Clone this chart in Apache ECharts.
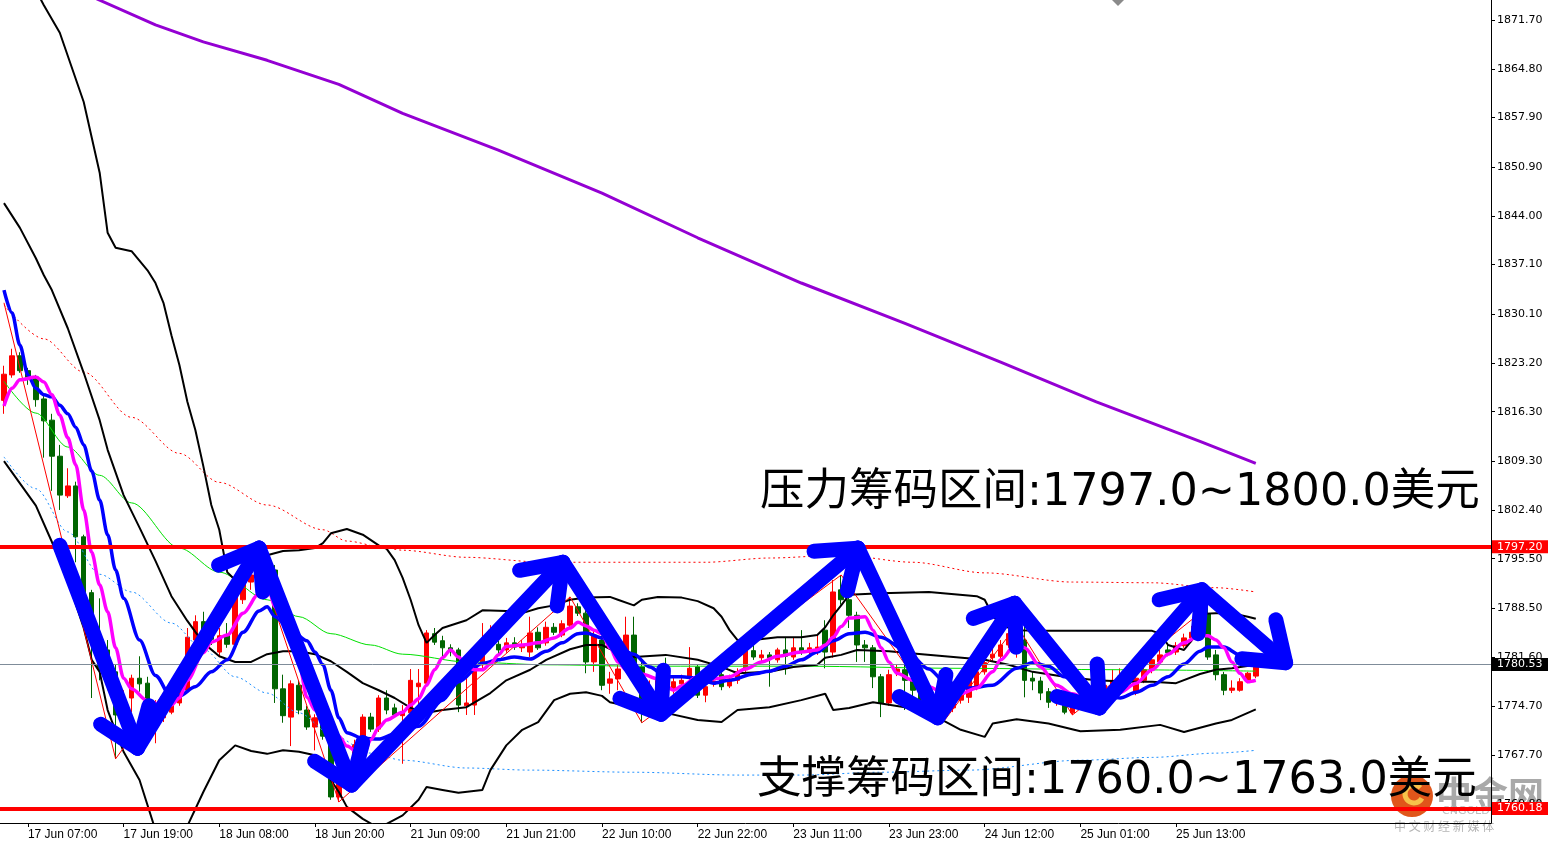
<!DOCTYPE html>
<html>
<head>
<meta charset="utf-8">
<title>XAUUSD H1</title>
<script src="https://cdn.jsdelivr.net/npm/echarts@6.0.0/dist/echarts.min.js"></script>
<style>
html,body{margin:0;padding:0;background:#fff;overflow:hidden;}
#chart{width:1548px;height:843px;}
</style>
</head>
<body>
<div id="chart"></div>
<script>
// ---------- axis scaffolding ----------
const barCount = 187;
const xTickLabels = ['17 Jun 07:00','17 Jun 19:00','18 Jun 08:00','18 Jun 20:00','21 Jun 09:00','21 Jun 21:00',
  '22 Jun 10:00','22 Jun 22:00','23 Jun 11:00','23 Jun 23:00','24 Jun 12:00','25 Jun 01:00','25 Jun 13:00'];
const xTickBars = [3,15,27,39,51,63,75,87,99,111,123,135,147];
const yTickLabels = [1871.70,1864.80,1857.90,1850.90,1844.00,1837.10,1830.10,1823.20,1816.30,1809.30,
  1802.40,1795.50,1788.50,1781.60,1774.70,1767.70,1760.80];
const yMin = 1758.12, yMax = 1874.53;

// ---------- levels ----------
const resistanceLevel = 1797.20;
const supportLevel = 1760.18;
const lastPrice = 1780.53;

// ---------- candles [open, close, low, high] ----------
const candles = [
[1817.9,1821.6,1816.0,1822.8],[1821.5,1824.2,1821.1,1825.2],[1824.2,1822.1,1821.8,1824.7],[1822.1,1821.1,1820.1,1822.5],
[1821.2,1818.0,1817.0,1821.5],[1818.1,1815.0,1809.8,1818.5],[1815.1,1810.0,1805.1,1816.0],[1810.0,1804.5,1802.4,1811.6],
[1804.4,1805.8,1804.1,1808.3],[1805.8,1798.6,1795.0,1806.4],[1798.6,1790.7,1789.7,1798.9],[1790.7,1784.0,1775.8,1791.1],
[1784.0,1780.0,1778.3,1789.9],[1782.6,1779.5,1776.9,1784.0],[1779.5,1773.4,1767.2,1780.5],[1773.3,1775.5,1769.9,1776.9],
[1775.8,1778.6,1773.8,1779.1],[1778.6,1777.8,1776.7,1781.7],[1777.9,1772.4,1771.8,1778.8],[1772.4,1774.7,1769.4,1775.5],
[1773.0,1774.0,1772.4,1774.8],[1773.8,1775.5,1773.5,1775.9],[1775.1,1776.9,1774.7,1777.5],[1776.9,1784.4,1776.7,1785.7],
[1784.0,1786.6,1783.3,1787.5],[1786.6,1784.7,1784.0,1788.0],[1785.1,1784.1,1783.3,1786.0],[1782.3,1784.6,1781.6,1785.7],
[1784.7,1783.4,1782.9,1786.4],[1783.4,1790.5,1783.2,1791.1],[1789.7,1792.2,1789.1,1793.2],[1792.2,1793.2,1791.1,1794.2],
[1794.2,1791.6,1791.1,1795.0],[1791.6,1793.9,1791.1,1794.9],[1793.9,1777.1,1775.1,1794.6],[1777.1,1773.3,1772.3,1779.1],
[1773.1,1777.8,1769.0,1778.3],[1777.6,1774.1,1773.5,1778.3],[1774.1,1771.7,1771.3,1774.7],[1771.7,1773.0,1768.4,1773.5],
[1772.7,1770.4,1769.9,1773.3],[1770.4,1761.8,1761.4,1770.9],[1761.8,1764.1,1761.1,1764.5],[1764.1,1767.0,1763.5,1767.7],
[1767.0,1769.2,1766.3,1769.9],[1769.2,1773.1,1768.7,1773.5],[1773.1,1771.4,1771.0,1773.7],[1771.4,1775.8,1771.0,1776.2],
[1775.8,1774.1,1773.5,1776.9],[1774.4,1773.4,1773.0,1775.0],[1773.3,1773.8,1766.5,1774.8],[1773.7,1778.3,1773.0,1779.9],
[1777.4,1777.9,1773.7,1779.9],[1777.9,1785.0,1777.6,1785.4],[1784.9,1783.7,1783.3,1785.7],[1783.9,1782.9,1781.6,1784.6],
[1782.9,1782.5,1781.7,1783.4],[1782.6,1774.8,1773.8,1782.9],[1774.7,1775.1,1773.4,1778.8],[1774.8,1780.5,1773.4,1780.9],
[1780.5,1784.0,1780.0,1786.4],[1783.7,1785.4,1782.9,1786.1],[1783.4,1782.6,1781.9,1783.9],[1782.6,1783.6,1782.2,1784.3],
[1783.6,1783.0,1782.6,1784.4],[1782.9,1783.3,1782.3,1784.0],[1782.3,1785.0,1781.6,1787.3],[1785.1,1782.9,1782.6,1785.8],
[1783.6,1785.8,1783.2,1786.6],[1785.8,1785.1,1784.7,1786.4],[1784.7,1786.3,1784.4,1786.8],[1786.1,1788.8,1785.8,1790.1],
[1788.7,1787.8,1787.4,1789.2],[1787.8,1780.9,1779.3,1788.3],[1780.9,1784.7,1779.5,1785.4],[1784.0,1777.6,1776.9,1784.6],
[1777.9,1778.5,1776.4,1779.5],[1778.5,1779.9,1776.9,1780.6],[1782.2,1784.7,1781.7,1787.3],[1784.7,1780.2,1779.1,1787.3],
[1780.2,1775.5,1772.3,1781.2],[1775.5,1776.9,1774.1,1778.3],[1776.9,1778.3,1776.2,1779.5],[1779.1,1776.5,1775.9,1781.5],
[1776.9,1778.1,1776.4,1778.9],[1777.8,1778.3,1777.2,1779.1],[1778.8,1780.0,1778.3,1783.0],[1780.2,1776.2,1775.8,1780.6],
[1776.2,1777.4,1775.2,1777.9],[1777.9,1778.2,1777.4,1778.9],[1779.1,1777.4,1776.9,1779.6],[1777.5,1778.5,1777.2,1779.1],
[1778.3,1779.5,1777.8,1780.0],[1779.8,1782.5,1779.5,1783.0],[1782.5,1781.6,1781.2,1783.3],[1781.5,1781.9,1780.9,1782.6],
[1781.9,1781.5,1777.4,1782.3],[1781.2,1782.6,1780.8,1782.9],[1782.6,1781.7,1779.1,1784.3],[1781.6,1782.9,1781.2,1784.4],
[1782.9,1782.3,1781.9,1785.4],[1782.3,1782.9,1781.9,1783.6],[1782.3,1783.0,1781.9,1784.7],[1785.4,1782.3,1780.0,1786.8],
[1782.3,1790.8,1781.5,1792.5],[1791.1,1789.7,1789.0,1793.2],[1789.7,1787.5,1785.7,1790.4],[1787.5,1783.3,1780.9,1788.0],
[1783.3,1782.9,1780.9,1784.0],[1782.9,1778.8,1777.2,1783.3],[1778.8,1775.1,1773.1,1779.2],[1775.1,1779.1,1774.7,1779.8],
[1779.5,1779.9,1778.9,1780.5],[1779.8,1778.3,1774.1,1780.5],[1778.3,1776.9,1775.5,1778.9],[1776.9,1775.5,1774.8,1777.6],
[1775.5,1774.4,1773.8,1776.2],[1774.4,1773.8,1773.3,1775.5],[1773.8,1774.8,1772.7,1775.5],[1774.4,1775.5,1773.8,1776.2],
[1775.5,1776.7,1775.0,1777.2],[1775.9,1778.3,1775.1,1778.8],[1777.4,1779.5,1776.9,1780.0],[1779.5,1780.8,1779.1,1781.2],
[1781.5,1782.0,1780.9,1782.9],[1781.7,1783.3,1781.2,1784.0],[1783.3,1784.9,1782.9,1785.4],[1785.1,1785.7,1781.5,1786.1],
[1784.0,1778.3,1775.9,1786.0],[1778.6,1778.2,1776.9,1779.5],[1778.2,1776.5,1775.5,1778.8],[1776.7,1775.2,1774.4,1777.2],
[1775.2,1776.4,1774.7,1776.9],[1775.9,1773.8,1773.5,1776.5],[1773.7,1774.8,1773.4,1775.5],[1774.8,1775.8,1774.1,1776.4],
[1775.8,1775.5,1774.7,1776.7],[1775.5,1776.7,1775.0,1777.5],[1776.2,1777.6,1775.8,1778.3],[1777.4,1778.3,1776.9,1779.8],
[1778.3,1778.9,1777.6,1780.0],[1778.6,1777.8,1777.2,1779.5],[1776.7,1778.6,1776.2,1779.1],[1778.3,1779.8,1777.9,1780.3],
[1779.8,1781.2,1779.3,1781.7],[1780.9,1781.9,1780.5,1782.6],[1782.6,1782.2,1781.7,1783.3],[1782.3,1783.2,1781.9,1783.7],
[1783.2,1784.3,1782.9,1784.9],[1784.3,1785.1,1783.7,1786.0],[1785.1,1786.8,1784.7,1787.7],[1787.7,1781.6,1781.2,1788.7],
[1781.9,1779.1,1778.3,1782.6],[1779.1,1776.9,1776.2,1779.5],[1776.9,1777.2,1776.5,1778.3],[1776.9,1778.1,1776.7,1778.6],
[1778.3,1779.3,1777.9,1779.5],[1778.9,1780.5,1778.6,1780.9]
];

// ---------- indicator readings [bar, price] ----------
const maPurple = [[0,1880.9],[12,1874.5],[19,1871.0],[25,1868.6],[33,1866.0],[42,1862.6],[50,1858.5],[62,1853.3],
  [75,1847.2],[87,1840.9],[100,1834.5],[113,1828.8],[125,1823.3],[137,1817.7],[150,1812.1],[157,1809.0]];
const envUpperRed = [[0,1831.4],[5,1826.6],[10,1821.9],[16,1815.5],[22,1810.4],[27,1806.3],[33,1803.1],[40,1799.6],
  [43,1798.0],[48,1797.0],[50,1796.7],[58,1795.7],[68,1795.0],[75,1795.0],[88,1795.0],[96,1795.6],[105,1796.0],
  [114,1795.0],[123,1793.5],[134,1792.2],[144,1792.1],[152,1791.4],[157,1790.8]];
const envLowerBlue = [[0,1809.9],[4,1805.4],[8,1799.3],[12,1793.3],[16,1790.8],[21,1786.4],[25,1782.7],[29,1778.8],
  [33,1776.5],[37,1773.7],[41,1770.7],[46,1768.0],[50,1767.0],[58,1765.9],[66,1765.6],[79,1765.3],[92,1764.9],
  [100,1764.9],[110,1765.3],[121,1765.6],[135,1767.0],[144,1767.4],[152,1768.0],[157,1768.4]];
const maGreen = [[0,1820.6],[4,1816.1],[8,1811.3],[12,1807.3],[16,1803.4],[22,1797.0],[27,1793.6],[33,1789.7],
  [37,1787.3],[41,1784.9],[46,1783.3],[50,1782.0],[58,1780.9],[68,1780.5],[80,1780.3],[100,1780.3],[120,1780.0],
  [140,1779.8],[157,1779.6]];
const bbUpper = [[4,1875.9],[5,1873.8],[7,1869.9],[10,1860.1],[12,1850.1],[13,1841.6],[14,1839.5],[16,1839.0],
  [18,1836.3],[19,1834.5],[20,1831.7],[21,1827.1],[22,1822.9],[23,1817.7],[24,1813.7],[25,1808.6],[26,1803.1],
  [27,1799.6],[28,1793.6],[29,1792.5],[31,1794.6],[33,1796.0],[35,1796.6],[37,1796.7],[39,1797.0],[40,1797.7],
  [41,1799.1],[43,1799.7],[45,1798.9],[47,1797.4],[48,1796.9],[49,1795.3],[50,1792.8],[51,1789.7],[52,1786.1],
  [53,1783.6],[54,1784.7],[55,1785.7],[58,1786.8],[60,1788.2],[63,1788.1],[65,1787.8],[67,1788.5],[69,1788.9],
  [71,1789.7],[73,1790.0],[76,1790.1],[77,1789.7],[79,1788.9],[80,1789.7],[82,1790.1],[85,1790.0],[87,1789.5],
  [89,1788.5],[90,1787.3],[91,1785.4],[92,1784.0],[94,1784.0],[97,1784.4],[100,1784.4],[102,1784.7],[103,1785.8],
  [104,1787.5],[105,1788.9],[106,1790.4],[110,1790.6],[116,1790.8],[122,1790.2],[123,1789.7],[124,1787.5],
  [125,1786.1],[127,1785.4],[130,1785.3],[144,1785.3],[145,1784.9],[146,1783.3],[148,1782.6],[149,1784.0],
  [150,1787.7],[152,1787.8],[154,1787.8],[156,1787.3],[157,1787.0]];
const bbMiddle = [[0,1845.8],[2,1842.3],[4,1838.0],[5,1835.6],[6,1833.5],[8,1828.1],[10,1821.8],[12,1815.1],
  [13,1810.9],[15,1804.5],[17,1799.9],[19,1795.2],[21,1790.2],[23,1786.7],[25,1783.6],[27,1781.7],[29,1780.9],
  [31,1780.9],[33,1782.0],[35,1782.4],[37,1782.4],[39,1782.0],[41,1781.0],[43,1779.5],[45,1777.9],[47,1776.9],
  [49,1775.8],[51,1774.4],[53,1773.7],[55,1774.1],[58,1774.5],[61,1776.5],[63,1778.3],[66,1779.8],[68,1781.2],
  [71,1782.7],[73,1783.3],[75,1783.3],[77,1782.2],[79,1781.6],[83,1781.9],[87,1781.2],[90,1780.2],[92,1779.3],
  [96,1779.5],[99,1780.2],[102,1780.5],[103,1781.5],[105,1781.9],[107,1782.6],[111,1782.4],[113,1782.2],
  [123,1781.2],[126,1780.5],[129,1779.5],[133,1778.8],[137,1778.3],[141,1778.1],[144,1778.1],[147,1777.9],
  [150,1779.2],[152,1779.8],[154,1780.0],[157,1780.5]];
const bbLower = [[0,1809.3],[4,1803.0],[6,1797.9],[8,1792.5],[10,1785.7],[11,1781.2],[12,1779.5],[13,1774.1],
  [15,1768.2],[17,1764.2],[19,1757.1],[21,1752.9],[23,1757.7],[25,1762.5],[27,1767.0],[29,1769.1],[31,1768.3],
  [33,1767.9],[35,1768.4],[37,1768.2],[39,1767.7],[40,1766.3],[41,1764.2],[42,1762.5],[43,1760.4],[45,1758.7],
  [47,1757.4],[50,1759.2],[52,1761.4],[53,1763.2],[55,1762.8],[57,1762.4],[60,1762.8],[61,1765.6],[63,1769.1],
  [65,1771.3],[67,1772.4],[69,1775.5],[71,1776.4],[73,1776.6],[75,1776.1],[76,1775.2],[79,1774.5],[83,1773.7],
  [87,1772.7],[90,1772.4],[92,1774.1],[96,1774.5],[100,1775.5],[103,1776.4],[104,1774.1],[106,1774.4],
  [109,1775.2],[113,1774.5],[117,1773.1],[120,1771.3],[123,1770.3],[124,1772.2],[127,1772.8],[131,1772.2],
  [135,1771.1],[140,1771.3],[145,1772.0],[148,1771.0],[152,1772.2],[154,1772.7],[157,1774.2]];
const maBlue = [[0,1833.5],[1,1830.3],[2,1825.7],[3,1821.5],[4,1819.6],[5,1818.7],[6,1818.4],[7,1817.2],[8,1816.0],
  [9,1814.1],[10,1811.6],[11,1807.9],[12,1803.8],[13,1798.9],[14,1793.9],[15,1789.9],[17,1784.0],[19,1779.0],
  [21,1775.9],[22,1776.1],[24,1777.4],[26,1779.5],[28,1781.2],[30,1785.1],[32,1788.1],[33,1788.7],[34,1787.3],
  [36,1785.4],[38,1783.9],[39,1782.3],[40,1780.5],[41,1776.9],[42,1773.0],[43,1770.9],[45,1770.1],[47,1770.0],
  [49,1770.7],[52,1771.8],[55,1775.5],[57,1778.1],[60,1780.7],[62,1781.2],[64,1781.6],[66,1781.3],[68,1782.4],
  [70,1783.6],[72,1784.9],[73,1785.0],[75,1784.3],[77,1782.9],[79,1782.0],[81,1780.2],[83,1778.8],[85,1778.8],
  [87,1778.6],[89,1777.9],[91,1778.3],[94,1779.2],[96,1779.6],[98,1780.3],[100,1781.2],[102,1782.3],[104,1783.9],
  [106,1784.9],[108,1785.1],[110,1784.4],[113,1782.6],[116,1779.9],[118,1778.1],[121,1777.2],[124,1777.6],
  [127,1780.0],[129,1780.8],[131,1780.3],[133,1778.8],[135,1777.2],[137,1776.4],[140,1775.8],[142,1776.6],
  [144,1777.6],[146,1778.8],[148,1780.6],[150,1782.4],[151,1783.0],[153,1783.0],[155,1781.9],[157,1781.3]];
const maMagenta = [[0,1817.1],[1,1819.6],[2,1820.8],[4,1821.2],[5,1820.5],[6,1818.7],[7,1815.8],[8,1812.6],
  [9,1808.8],[10,1802.4],[11,1796.4],[12,1791.8],[13,1788.0],[14,1782.9],[15,1778.6],[16,1777.1],[18,1775.4],
  [20,1774.7],[21,1774.8],[22,1775.8],[23,1778.3],[25,1782.2],[26,1783.7],[28,1784.7],[30,1787.8],[32,1790.6],
  [33,1791.9],[34,1788.7],[35,1786.5],[36,1783.7],[37,1780.7],[38,1775.9],[39,1774.1],[40,1773.0],[42,1770.4],
  [43,1769.0],[45,1767.5],[46,1769.9],[47,1771.6],[48,1772.7],[50,1773.8],[51,1774.8],[52,1775.7],[53,1777.6],
  [54,1779.8],[55,1781.5],[56,1782.6],[57,1781.6],[58,1780.3],[59,1779.8],[60,1779.8],[61,1780.6],[62,1781.9],
  [63,1783.1],[65,1783.3],[67,1783.6],[69,1784.3],[71,1785.7],[72,1786.5],[73,1786.0],[74,1785.4],[75,1784.9],
  [76,1782.9],[77,1780.9],[78,1779.8],[80,1779.2],[82,1778.5],[84,1776.9],[85,1777.5],[87,1778.8],[89,1778.5],
  [91,1778.8],[93,1779.9],[95,1780.9],[97,1781.7],[100,1782.3],[102,1782.6],[103,1783.3],[104,1784.4],[105,1785.9],
  [106,1787.1],[108,1787.3],[109,1785.4],[110,1782.9],[111,1780.9],[112,1779.3],[114,1778.3],[116,1777.4],
  [118,1776.4],[120,1776.4],[122,1777.2],[124,1779.5],[125,1781.2],[127,1783.6],[128,1782.9],[130,1780.2],
  [132,1777.6],[134,1776.4],[136,1775.5],[138,1775.9],[140,1776.6],[142,1777.9],[144,1779.8],[146,1782.0],
  [148,1783.6],[150,1784.7],[151,1784.6],[152,1784.0],[153,1782.9],[154,1780.9],[155,1779.3],[156,1778.1],[157,1778.3]];
const zigzag = [[0,1831.7],[14,1767.2],[32,1795.0],[42,1761.1],[71,1790.1],[80,1772.3],[105,1793.2],[118,1772.7],
  [127,1786.1],[134,1773.4],[151,1788.7]];

// ---------- hand-drawn arrow path [bar, price] ----------
const arrowPath = [[7,1797.4],[16.75,1768.7],[32,1797.0],[43.6,1763.5],[70.1,1795.0],[82.4,1773.5],
  [107.1,1797.0],[117.1,1773.0],[126.75,1789.2],[137.4,1774.4],[150.25,1791.1],[160.75,1780.8]];

// ---------- annotations ----------
const resistanceText = '压力筹码区间:1797.0~1800.0美元';
const supportText = '支撑筹码区间:1760.0~1763.0美元';

// ---------- build ----------
const categories = Array.from({length: barCount}, (_, k) => 'b' + k);
const labelMap = {};
xTickBars.forEach((b, i) => { labelMap[b] = xTickLabels[i]; });

const chart = echarts.init(document.getElementById('chart'), null, {renderer: 'canvas'});

function lineSeries(name, data, color, width, type, smooth, z) {
  return {
    name, type: 'line', data, showSymbol: false, symbol: 'none', smooth: smooth, smoothMonotone: 'x',
    lineStyle: {color, width, type}, z: z, silent: true, animation: false
  };
}

const levelLabel = (bg) => ({
  show: true, position: 'end', distance: 1, formatter: (p) => p.value.toFixed(2),
  color: '#fff', backgroundColor: bg, padding: [1, 6, 1, 5], fontSize: 11, fontFamily: 'DejaVu Sans'
});

const option = {
  animation: false,
  backgroundColor: '#ffffff',
  grid: {left: -3, right: 57, top: 0, bottom: 20, containLabel: false},
  xAxis: {
    type: 'category', data: categories, boundaryGap: true,
    axisLine: {show: true, lineStyle: {color: '#000', width: 1}},
    axisTick: {show: true, alignWithLabel: true, length: 4, interval: (i) => labelMap[i] !== undefined, lineStyle: {color: '#000'}},
    axisLabel: {interval: (i) => labelMap[i] !== undefined, formatter: (v, i) => labelMap[i] || '',
      align: 'left', margin: 6, color: '#000', fontSize: 12, fontFamily: 'Liberation Sans'},
    splitLine: {show: false}
  },
  yAxis: {
    type: 'value', position: 'right', min: yMin, max: yMax,
    axisLine: {show: true, lineStyle: {color: '#000', width: 1}},
    axisTick: {show: true, length: 4, customValues: yTickLabels, lineStyle: {color: '#000'}},
    axisLabel: {customValues: yTickLabels, formatter: (v) => v.toFixed(2), color: '#000', fontSize: 11,
      fontFamily: 'DejaVu Sans', margin: 6},
    splitLine: {show: false}
  },
  series: [
    {
      name: 'XAUUSD', type: 'candlestick', data: candles, barWidth: 5, z: 1, silent: true,
      itemStyle: {color: '#ff0000', color0: '#006400', borderColor: '#ff0000', borderColor0: '#006400', borderWidth: 1}
    },
    lineSeries('MA long', maPurple, '#9400d3', 3, 'solid', false, 2),
    lineSeries('Env upper', envUpperRed, '#ff0000', 1, [2, 3], 0.3, 2),
    lineSeries('Env lower', envLowerBlue, '#1e90ff', 1, [2, 3], 0.3, 2),
    lineSeries('MA green', maGreen, '#00e000', 1, 'solid', 0.3, 2),
    lineSeries('BB upper', bbUpper, '#000000', 2, 'solid', false, 2),
    lineSeries('BB middle', bbMiddle, '#000000', 2, 'solid', false, 2),
    lineSeries('BB lower', bbLower, '#000000', 2, 'solid', false, 2),
    lineSeries('ZigZag', zigzag, '#ff0000', 1, 'solid', false, 2),
    lineSeries('MA blue', maBlue, '#0000ff', 3.5, 'solid', 0.3, 3),
    lineSeries('MA magenta', maMagenta, '#ff00ff', 3.5, 'solid', 0.3, 3),
    {
      name: 'levels', type: 'line', data: [], z: 4, silent: true,
      markLine: {
        silent: true, symbol: ['none', 'none'], animation: false,
        data: [
          {yAxis: lastPrice, lineStyle: {color: '#7f8c99', width: 1, type: 'solid'}, label: levelLabel('#000000')},
          {yAxis: resistanceLevel, lineStyle: {color: '#ff0000', width: 4, type: 'solid'}, label: levelLabel('#ff0000')},
          {yAxis: supportLevel, lineStyle: {color: '#ff0000', width: 4, type: 'solid'}, label: levelLabel('#ff0000')}
        ]
      }
    },
    {
      name: 'arrows', type: 'custom', z: 6, silent: true,
      data: arrowPath.slice(1).map((p) => [Math.round(p[0]), p[1]]),
      encode: {x: 0, y: 1},
      renderItem: function (params, api) {
        const at = (pt) => {
          const k0 = Math.floor(pt[0]), f = pt[0] - k0;
          const a = api.coord([k0, pt[1]]);
          if (!f) return a;
          const b = api.coord([k0 + 1, pt[1]]);
          return [a[0] + (b[0] - a[0]) * f, a[1]];
        };
        const i = params.dataIndex;
        const A = at(arrowPath[i]), B = at(arrowPath[i + 1]);
        const dx = B[0] - A[0], dy = B[1] - A[1];
        const len = Math.hypot(dx, dy) || 1;
        const rx = -dx / len, ry = -dy / len;
        const head = 44, ang = Math.PI / 5;
        const rot = (t) => [B[0] + head * (rx * Math.cos(t) - ry * Math.sin(t)), B[1] + head * (rx * Math.sin(t) + ry * Math.cos(t))];
        const st = {stroke: '#0000ff', lineWidth: 15, lineCap: 'round', lineJoin: 'round', fill: null};
        return {
          type: 'group',
          children: [
            {type: 'polyline', shape: {points: [A, B]}, style: st},
            {type: 'polyline', shape: {points: [rot(ang), B, rot(-ang)]}, style: st}
          ]
        };
      }
    }
  ],
  graphic: [
    {type: 'polygon', z: 50, shape: {points: [[1112, 0], [1118, 6], [1124, 0]]}, style: {fill: '#8a8a8a'}},
    {type: 'circle', z: 0, zlevel: 0, shape: {cx: 1412, cy: 796, r: 21}, style: {fill: '#e0561b'}},
    {type: 'arc', z: 0, shape: {cx: 1414, cy: 794, r: 9, startAngle: 0.5, endAngle: 5.5}, style: {stroke: '#f6c24a', lineWidth: 5, fill: null}},
    {type: 'text', z: 0, x: 1436, y: 794, style: {text: '中金网', font: 'bold 36px "Noto Sans CJK SC"', fill: '#a9a9a9', verticalAlign: 'middle', textVerticalAlign: 'middle'}},
    {type: 'text', z: 0, x: 1442, y: 811, style: {text: 'CNGOLD.COM.CN', font: '11px "DejaVu Sans"', fill: '#bdbdbd', verticalAlign: 'middle', textVerticalAlign: 'middle'}},
    {type: 'text', z: 0, x: 1394, y: 826, style: {text: '中 文 财 经 新 媒 体', font: '12px "Noto Sans CJK SC"', fill: '#b5b5b5', verticalAlign: 'middle', textVerticalAlign: 'middle'}},
    {type: 'text', z: 100, x: 760, y: 493, style: {text: resistanceText, font: '44.5px "DejaVu Sans", "Noto Sans CJK SC", sans-serif', fill: '#000', verticalAlign: 'middle', textVerticalAlign: 'middle'}},
    {type: 'text', z: 100, x: 757, y: 781, style: {text: supportText, font: '44.5px "DejaVu Sans", "Noto Sans CJK SC", sans-serif', fill: '#000', verticalAlign: 'middle', textVerticalAlign: 'middle'}}
  ]
};
chart.setOption(option);
</script>
</body>
</html>
